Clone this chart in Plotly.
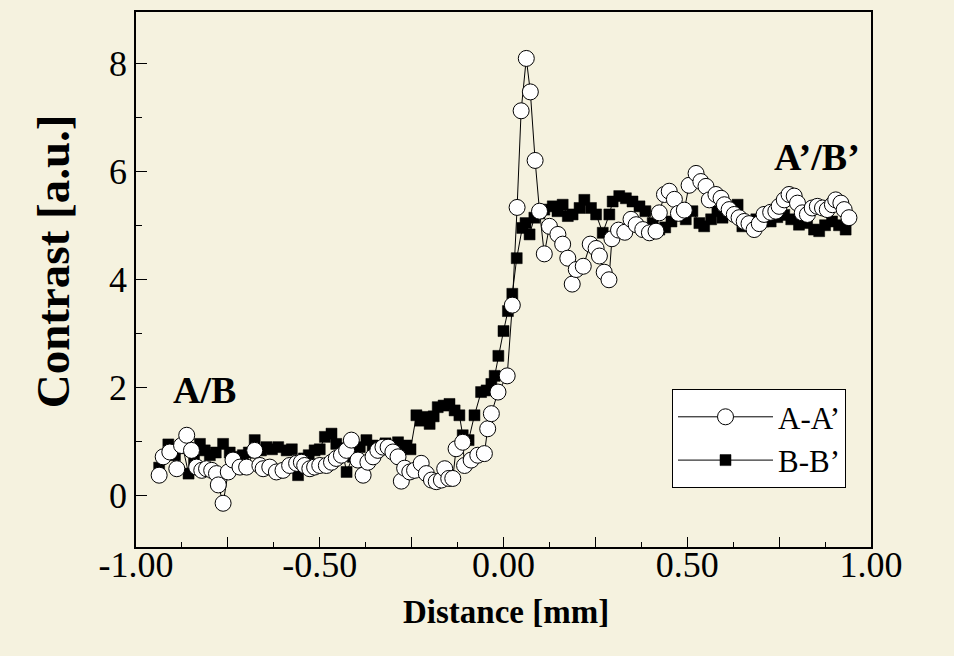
import plotly.graph_objects as go

# ---- data ----
A_X = [-0.937, -0.926, -0.908, -0.889, -0.876, -0.862, -0.849, -0.835, -0.821, -0.808,
       -0.794, -0.781, -0.776, -0.763, -0.749, -0.736, -0.717, -0.699, -0.677, -0.663,
       -0.654, -0.636, -0.618, -0.600, -0.582, -0.563, -0.550, -0.541, -0.527, -0.514,
       -0.500, -0.482, -0.468, -0.455, -0.441, -0.427, -0.414, -0.396, -0.382, -0.369,
       -0.355, -0.342, -0.328, -0.314, -0.301, -0.287, -0.278, -0.269, -0.255, -0.242,
       -0.224, -0.210, -0.196, -0.183, -0.169, -0.160, -0.149, -0.138, -0.129, -0.111,
       -0.106, -0.088, -0.070, -0.052, -0.043, -0.033, -0.015, 0.010, 0.024, 0.037,
       0.048, 0.062, 0.073, 0.086, 0.098, 0.111, 0.125, 0.148, 0.161, 0.175,
       0.187, 0.198, 0.217, 0.236, 0.252, 0.261, 0.274, 0.287, 0.295, 0.313,
       0.330, 0.347, 0.361, 0.379, 0.397, 0.415, 0.424, 0.438, 0.451, 0.465,
       0.476, 0.492, 0.505, 0.524, 0.537, 0.551, 0.560, 0.578, 0.592, 0.601,
       0.614, 0.628, 0.641, 0.655, 0.668, 0.682, 0.696, 0.709, 0.727, 0.741,
       0.750, 0.764, 0.777, 0.791, 0.800, 0.813, 0.827, 0.840, 0.854, 0.868,
       0.881, 0.895, 0.904, 0.918, 0.927, 0.940]
A_Y = [0.37, 0.71, 0.80, 0.49, 0.92, 1.11, 0.83, 0.52, 0.46, 0.49,
       0.46, 0.40, 0.19, -0.15, 0.43, 0.65, 0.52, 0.52, 0.83, 0.55,
       0.49, 0.52, 0.43, 0.46, 0.55, 0.59, 0.61, 0.55, 0.49, 0.52,
       0.55, 0.55, 0.61, 0.68, 0.74, 0.83, 1.02, 0.65, 0.37, 0.61,
       0.71, 0.83, 0.89, 0.89, 0.80, 0.71, 0.26, 0.50, 0.43, 0.46,
       0.59, 0.40, 0.28, 0.25, 0.28, 0.49, 0.31, 0.31, 0.86, 0.98,
       0.55, 0.65, 0.74, 0.77, 1.23, 1.51, 1.91, 2.21, 3.52, 5.33,
       7.12, 8.09, 7.47, 6.20, 5.26, 4.47, 4.98, 4.83, 4.65, 4.39,
       3.91, 4.18, 4.24, 4.65, 4.57, 4.43, 4.13, 3.99, 4.75, 4.91,
       4.87, 5.11, 5.01, 4.92, 4.86, 4.89, 5.23, 5.57, 5.63, 5.48,
       5.22, 5.28, 5.74, 5.96, 5.81, 5.72, 5.47, 5.57, 5.50, 5.38,
       5.29, 5.20, 5.14, 5.07, 5.03, 4.92, 5.03, 5.20, 5.24, 5.26,
       5.35, 5.47, 5.57, 5.54, 5.41, 5.23, 5.20, 5.32, 5.35, 5.32,
       5.29, 5.38, 5.47, 5.41, 5.29, 5.14]

B_X = [-0.937, -0.912, -0.894, -0.872, -0.857, -0.842, -0.826, -0.813, -0.799, -0.783,
       -0.763, -0.745, -0.726, -0.709, -0.693, -0.677, -0.660, -0.645, -0.630, -0.613,
       -0.590, -0.576, -0.559, -0.543, -0.530, -0.514, -0.500, -0.486, -0.468, -0.455,
       -0.440, -0.427, -0.410, -0.391, -0.373, -0.356, -0.337, -0.321, -0.304, -0.287,
       -0.274, -0.264, -0.253, -0.237, -0.226, -0.210, -0.201, -0.190, -0.179, -0.163,
       -0.147, -0.133, -0.120, -0.111, -0.095, -0.079, -0.061, -0.046, -0.033, -0.024,
       -0.014, 0.000, 0.012, 0.024, 0.036, 0.051, 0.060, 0.071, 0.084, 0.098,
       0.111, 0.134, 0.147, 0.161, 0.175, 0.188, 0.207, 0.220, 0.238, 0.252,
       0.270, 0.288, 0.297, 0.315, 0.333, 0.351, 0.370, 0.386, 0.406, 0.424,
       0.440, 0.457, 0.474, 0.496, 0.514, 0.533, 0.546, 0.565, 0.582, 0.596,
       0.614, 0.637, 0.650, 0.668, 0.688, 0.707, 0.727, 0.745, 0.764, 0.783,
       0.804, 0.826, 0.845, 0.859, 0.875, 0.894, 0.913, 0.931]
B_Y = [0.51, 0.94, 0.74, 0.87, 0.40, 0.65, 0.95, 0.83, 0.74, 0.79,
       0.95, 0.79, 0.71, 0.74, 0.79, 1.02, 0.83, 0.89, 0.85, 0.89,
       0.83, 0.85, 0.37, 0.68, 0.74, 0.83, 0.85, 1.08, 1.14, 0.95,
       0.87, 0.43, 0.71, 0.89, 1.02, 0.92, 0.89, 0.96, 0.89, 0.98,
       0.89, 0.92, 0.85, 1.48, 1.38, 1.45, 1.32, 1.46, 1.63, 1.66,
       1.69, 1.57, 1.48, 1.11, 1.02, 1.48, 1.91, 1.94, 2.06, 2.21,
       2.58, 3.04, 3.41, 3.73, 4.39, 4.95, 5.04, 4.83, 5.14, 5.22,
       5.29, 5.35, 5.26, 5.38, 5.17, 5.20, 5.32, 5.47, 5.32, 5.20,
       4.86, 5.20, 5.44, 5.54, 5.50, 5.44, 5.35, 5.26, 5.04, 4.92,
       4.96, 5.07, 5.20, 5.11, 5.26, 5.04, 4.98, 5.11, 5.26, 5.14,
       5.26, 5.38, 4.98, 5.04, 5.11, 5.07, 5.07, 5.15, 5.19, 5.11,
       5.01, 5.04, 4.92, 4.89, 5.00, 5.07, 5.00, 4.92]

X_TICKS = [-1.0, -0.75, -0.5, -0.25, 0.0, 0.25, 0.5, 0.75, 1.0]
X_TICKTEXT = ["-1.00", "", "-0.50", "", "0.00", "", "0.50", "", "1.00"]
Y_TICKS = [0, 2, 4, 6, 8]

SERIF = "Liberation Serif, Times New Roman, serif"
BG = "#F5F2DF"

fig = go.Figure()
fig.add_trace(go.Scatter(
    x=B_X, y=B_Y, mode="lines+markers", name="B-B’", legendrank=2,
    line=dict(color="black", width=1),
    marker=dict(symbol="square", size=11, color="black",
                line=dict(color="black", width=0.5)),
))
fig.add_trace(go.Scatter(
    x=A_X, y=A_Y, mode="lines+markers", name="A-A’", legendrank=1,
    line=dict(color="black", width=1),
    marker=dict(symbol="circle", size=16, color="white",
                line=dict(color="black", width=1)),
))

fig.add_annotation(x=-0.8125, y=1.94, text="<b>A/B</b>", showarrow=False,
                   font=dict(family=SERIF, size=38, color="black"))
fig.add_annotation(x=0.853, y=6.27, text="<b>A’/B’</b>", showarrow=False,
                   font=dict(family=SERIF, size=38, color="black"))

# axis titles
fig.add_annotation(xref="paper", yref="paper", x=0.503, y=-0.121,
                   xanchor="center", yanchor="middle",
                   text="<b>Distance [mm]</b>", showarrow=False,
                   font=dict(family=SERIF, size=33, color="black"))
fig.add_annotation(xref="paper", yref="paper", x=-0.113, y=0.534,
                   xanchor="center", yanchor="middle",
                   text="<b>Contrast [a.u.]</b>", showarrow=False, textangle=-90,
                   font=dict(family=SERIF, size=47, color="black"))

fig.update_layout(
    width=954, height=656,
    margin=dict(l=136, r=83, t=10, b=109),
    paper_bgcolor=BG, plot_bgcolor=BG,
    font=dict(family=SERIF, color="black"),
    showlegend=True,
    legend=dict(
        x=0.966, y=0.11, xanchor="right", yanchor="bottom",
        bgcolor="white", bordercolor="black", borderwidth=1,
        font=dict(family=SERIF, size=31, color="black"),
        traceorder="normal", itemwidth=95,
    ),
    xaxis=dict(
        range=[-1, 1], tickmode="array", tickvals=X_TICKS, ticktext=X_TICKTEXT,
        ticks="inside", ticklen=10, tickwidth=1.2, tickcolor="black",
        minor=dict(tickmode="linear", tick0=0, dtick=0.125, ticks="inside",
                   ticklen=5, tickwidth=1.2, tickcolor="black"),
        showline=True, linecolor="black", linewidth=1.5, mirror=True,
        showgrid=False, zeroline=False, ticklabelstandoff=-15,
        tickfont=dict(family=SERIF, size=36, color="black"),
    ),
    yaxis=dict(
        range=[-0.96, 8.95], tickmode="array", tickvals=Y_TICKS,
        ticks="inside", ticklen=11, tickwidth=1.2, tickcolor="black",
        minor=dict(tickmode="linear", tick0=0, dtick=1, ticks="inside",
                   ticklen=6, tickwidth=1.2, tickcolor="black"),
        showline=True, linecolor="black", linewidth=1.5, mirror=True,
        showgrid=False, zeroline=False,
        tickfont=dict(family=SERIF, size=36, color="black"),
    ),
)

fig.write_html(
    "out.html",
    config={"displayModeBar": False},
    post_script="document.body.style.margin='0';"
                "document.body.style.background='" + BG + "';",
)
